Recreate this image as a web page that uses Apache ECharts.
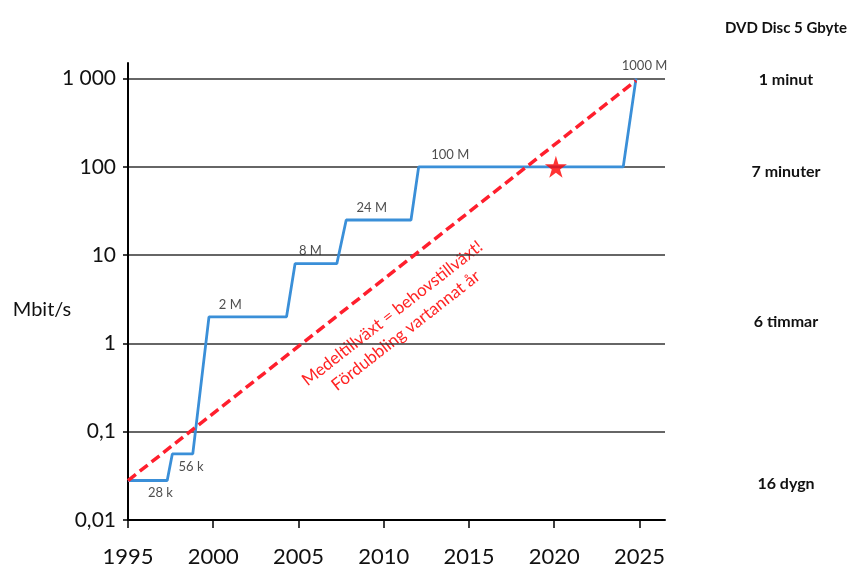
<!DOCTYPE html>
<html>
<head>
<meta charset="utf-8">
<script src="https://cdn.jsdelivr.net/npm/echarts@6/dist/echarts.min.js"></script>
<style>
html,body{margin:0;padding:0;background:#fff;}
#c{width:851px;height:570px;}
</style>
</head>
<body>
<div id="c"></div>
<script>
// ---- data ----
const stepYears  = [1995, 1997.3, 1997.6, 1998.8, 1999.75, 2004.3, 2004.8, 2007.25, 2007.8, 2011.6, 2012.05, 2024.05, 2024.8];
const stepValues = [0.028, 0.028, 0.056, 0.056, 2, 2, 8, 8, 25, 25, 100, 100, 1000];
const trendYears  = [1995, 2024.8];
const trendValues = [0.028, 950];
const starPoint = [2020.1, 100];
const speedLabels      = ['28 k', '56 k', '2 M', '8 M', '24 M', '100 M', '1000 M'];
const speedLabelYears  = [1996.9, 1998.7, 2001, 2005.7, 2009.3, 2013.9, 2025.3];
const speedLabelValues = [0.028, 0.056, 2, 8, 25, 100, 1000];
const xTicks = [1995, 2000, 2005, 2010, 2015, 2020, 2025];
const yTickValues = [0.01, 0.1, 1, 10, 100, 1000];
const yTickLabels = ['0,01', '0,1', '1', '10', '100', '1 000'];
const dvdHeader = 'DVD Disc 5 Gbyte';
const dvdTimes = ['1 minut', '7 minuter', '6 timmar', '16 dygn'];
const yName = 'Mbit/s';
const noteText = 'Medeltillväxt = behovstillväxt!\nFördubbling vartannat år';

// ---- chart ----
const chart = echarts.init(document.getElementById('c'));
const font = 'Lato, "Open Sans", sans-serif';
const zip = (a, b) => a.map((v, i) => [v, b[i]]);

const labelData = speedLabels.map((t, i) => ({
  value: [speedLabelYears[i], speedLabelValues[i]],
  label: { position: t.indexOf('k') >= 0 ? 'bottom' : 'top' }
}));

const dvdY = [80, 172, 322, 484];

const option = {
  animation: false,
  backgroundColor: '#fff',
  grid: { left: 128, right: 186, top: 63, bottom: 50 },
  xAxis: {
    type: 'value', min: 1995, max: 2026.5,
    axisLine: { onZero: false, lineStyle: { color: '#000', width: 2 } },
    axisTick: { customValues: xTicks, length: 8, lineStyle: { color: '#000', width: 1.5 } },
    axisLabel: {
      customValues: xTicks, fontFamily: font, fontSize: 22, color: '#111', margin: 26,
      formatter: v => String(v)
    },
    splitLine: { show: false }
  },
  yAxis: {
    type: 'log', logBase: 10, min: 0.01, max: 1500,
    axisLine: { show: true, lineStyle: { color: '#000', width: 2 } },
    axisTick: { show: true, customValues: yTickValues, length: 5, lineStyle: { color: '#000', width: 1.5 } },
    axisLabel: {
      customValues: yTickValues, fontFamily: font, fontSize: 21, color: '#111', margin: 12,
      formatter: v => yTickLabels[Math.round(Math.log10(v)) + 2]
    },
    splitLine: { show: true, lineStyle: { color: '#333', width: 1.5 } }
  },
  graphic: {
    z: 1,
    elements: [
      {
        type: 'rect', x: 399, y: 322, rotation: 38 * Math.PI / 180,
        shape: { x: -125, y: -30, width: 250, height: 60 }, style: { fill: '#fff' }
      },
      {
        type: 'text', x: 399, y: 322, rotation: 38 * Math.PI / 180,
        style: {
          text: noteText, font: '17px ' + font, fill: '#ff2424',
          align: 'center', verticalAlign: 'middle', lineHeight: 22
        }
      },
      {
        type: 'text', x: 42, y: 310,
        style: { text: yName, font: '20px ' + font, fill: '#111', align: 'center', verticalAlign: 'middle' }
      },
      {
        type: 'text', x: 786, y: 28,
        style: { text: dvdHeader, font: 'bold 15px ' + font, fill: '#111', align: 'center', verticalAlign: 'middle' }
      }
    ].concat(dvdTimes.map((t, i) => ({
      type: 'text', x: 786, y: dvdY[i],
      style: { text: t, font: 'bold 16px ' + font, fill: '#111', align: 'center', verticalAlign: 'middle' }
    })))
  },
  series: [
    {
      type: 'line', data: zip(stepYears, stepValues), symbol: 'none', z: 3,
      lineStyle: { color: '#3a8fd8', width: 2.8 }
    },
    {
      type: 'line', data: zip(trendYears, trendValues), symbol: 'none', z: 4,
      lineStyle: { color: '#ff1f2d', width: 3.5, type: [10, 5] }
    },
    {
      type: 'scatter', data: [starPoint], z: 5,
      symbol: 'path://M50,0 L61,35 L98,35 L68,57 L79,91 L50,70 L21,91 L32,57 L2,35 L39,35 Z',
      symbolSize: 22, itemStyle: { color: '#ff0000' }
    },
    {
      type: 'scatter', data: labelData, symbolSize: 0, z: 6, silent: true,
      label: {
        show: true, distance: 6, fontFamily: font, fontSize: 13, color: '#222',
        formatter: p => speedLabels[p.dataIndex]
      }
    }
  ]
};
chart.setOption(option);
</script>
</body>
</html>
